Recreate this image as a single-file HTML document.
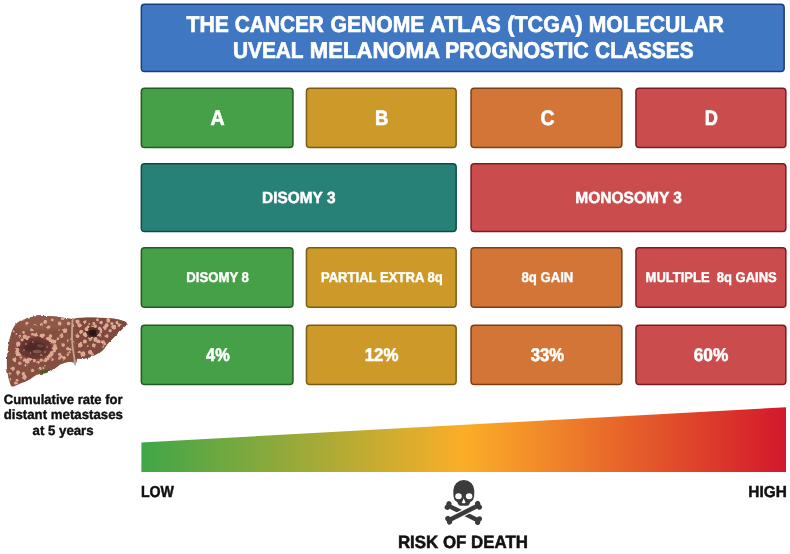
<!DOCTYPE html>
<html><head><meta charset="utf-8">
<style>
html,body{margin:0;padding:0;background:#fff;}
body{width:790px;height:554px;position:relative;overflow:hidden;font-family:"Liberation Sans",sans-serif;font-weight:bold;}
.t{position:absolute;white-space:pre;color:#fff;line-height:1;transform-origin:0 0;-webkit-text-stroke:0.03em;text-rendering:geometricPrecision;}
.k{color:#111;}
svg{position:absolute;left:0;top:0;}
</style></head><body>
<!-- boxes -->
<svg width="790" height="554" viewBox="0 0 790 554">
<rect x="141.35" y="4.35" width="642.80" height="67.10" rx="3.3" fill="#3f77c2" stroke="#1a3c7c" stroke-width="1.5"/>
<rect x="141.35" y="88.15" width="151.60" height="59.40" rx="3.3" fill="#45a047" stroke="#215c22" stroke-width="1.5"/>
<rect x="306.45" y="88.15" width="149.70" height="59.40" rx="3.3" fill="#cd9a29" stroke="#7a5a14" stroke-width="1.5"/>
<rect x="471.05" y="88.15" width="150.80" height="59.40" rx="3.3" fill="#d37537" stroke="#7c3e14" stroke-width="1.5"/>
<rect x="635.95" y="88.15" width="149.90" height="59.40" rx="3.3" fill="#cb4c4d" stroke="#7a1c22" stroke-width="1.5"/>
<rect x="141.35" y="163.75" width="314.80" height="67.70" rx="3.3" fill="#288177" stroke="#0f4a44" stroke-width="1.5"/>
<rect x="471.05" y="163.75" width="314.80" height="67.70" rx="3.3" fill="#cb4c4d" stroke="#7a1c22" stroke-width="1.5"/>
<rect x="141.35" y="247.65" width="151.60" height="59.70" rx="3.3" fill="#45a047" stroke="#215c22" stroke-width="1.5"/>
<rect x="306.45" y="247.65" width="149.70" height="59.70" rx="3.3" fill="#cd9a29" stroke="#7a5a14" stroke-width="1.5"/>
<rect x="471.05" y="247.65" width="150.80" height="59.70" rx="3.3" fill="#d37537" stroke="#7c3e14" stroke-width="1.5"/>
<rect x="635.95" y="247.65" width="149.90" height="59.70" rx="3.3" fill="#cb4c4d" stroke="#7a1c22" stroke-width="1.5"/>
<rect x="141.35" y="325.15" width="151.60" height="59.40" rx="3.3" fill="#45a047" stroke="#215c22" stroke-width="1.5"/>
<rect x="306.45" y="325.15" width="149.70" height="59.40" rx="3.3" fill="#cd9a29" stroke="#7a5a14" stroke-width="1.5"/>
<rect x="471.05" y="325.15" width="150.80" height="59.40" rx="3.3" fill="#d37537" stroke="#7c3e14" stroke-width="1.5"/>
<rect x="635.95" y="325.15" width="149.90" height="59.40" rx="3.3" fill="#cb4c4d" stroke="#7a1c22" stroke-width="1.5"/>
</svg>
<!-- text -->
<div class="t" id="t1a" style="left:186px;top:13.37px;font-size:22.84px;transform:translateX(0.62px) scaleX(0.9260);">THE</div>
<div class="t" id="t1b" style="left:234px;top:13.37px;font-size:22.84px;transform:translateX(0.80px) scaleX(0.9116);">CANCER</div>
<div class="t" id="t1c" style="left:330px;top:13.37px;font-size:22.84px;transform:translateX(0.46px) scaleX(0.9266);">GENOME</div>
<div class="t" id="t1d" style="left:430px;top:13.37px;font-size:22.84px;transform:translateX(0.08px) scaleX(0.9498);">ATLAS</div>
<div class="t" id="t1e" style="left:507px;top:13.37px;font-size:22.84px;transform:translateX(0.21px) scaleX(0.9457);">(TCGA)</div>
<div class="t" id="t1f" style="left:588px;top:13.37px;font-size:22.84px;transform:translateX(0.69px) scaleX(0.9259);">MOLECULAR</div>
<div class="t" id="t2a" style="left:232px;top:39.02px;font-size:22.84px;transform:translateX(0.94px) scaleX(0.9128);">UVEAL</div>
<div class="t" id="t2b" style="left:309px;top:39.02px;font-size:22.84px;transform:translateX(0.86px) scaleX(0.9674);">MELANOMA</div>
<div class="t" id="t2c" style="left:445px;top:39.02px;font-size:22.84px;transform:translateX(0.12px) scaleX(0.9362);">PROGNOSTIC</div>
<div class="t" id="t2d" style="left:595px;top:39.02px;font-size:22.84px;transform:translateX(0.10px) scaleX(0.9135);">CLASSES</div>
<div class="t" id="tA" style="left:210px;top:108.54px;font-size:20.89px;transform:translateX(0.45px) scaleX(0.9363);">A</div>
<div class="t" id="tB" style="left:375px;top:108.54px;font-size:20.89px;transform:translateX(0.06px) scaleX(0.8847);">B</div>
<div class="t" id="tC" style="left:540px;top:108.54px;font-size:20.89px;transform:translateX(0.42px) scaleX(0.9280);">C</div>
<div class="t" id="tD" style="left:704px;top:108.54px;font-size:20.89px;transform:translateX(0.70px) scaleX(0.8714);">D</div>
<div class="t" id="tD3" style="left:262px;top:190.21px;font-size:16.16px;transform:translateX(0.07px) scaleX(0.9543);">DISOMY 3</div>
<div class="t" id="tM3" style="left:575px;top:190.21px;font-size:16.16px;transform:translateX(0.36px) scaleX(0.9603);">MONOSOMY 3</div>
<div class="t" id="tD8" style="left:186px;top:270.01px;font-size:14.07px;transform:translateX(0.24px) scaleX(0.9358);">DISOMY 8</div>
<div class="t" id="tPE" style="left:320px;top:269.92px;font-size:14.07px;transform:translateX(0.91px) scaleX(0.9300);">PARTIAL EXTRA 8q</div>
<div class="t" id="t8G" style="left:521px;top:269.92px;font-size:14.07px;transform:translateX(0.53px) scaleX(0.9331);">8q GAIN</div>
<div class="t" id="tMG" style="left:645px;top:269.91px;font-size:14.07px;transform:translateX(0.57px) scaleX(0.9242);">MULTIPLE  8q GAINS</div>
<div class="t" id="p4" style="left:206px;top:345.85px;font-size:18.38px;transform:translateX(0.06px) scaleX(0.8905);">4%</div>
<div class="t" id="p12" style="left:364px;top:345.86px;font-size:18.38px;transform:translateX(0.67px) scaleX(0.9203);">12%</div>
<div class="t" id="p33" style="left:530px;top:345.86px;font-size:18.38px;transform:translateX(0.64px) scaleX(0.9108);">33%</div>
<div class="t" id="p60" style="left:693px;top:345.86px;font-size:18.38px;transform:translateX(0.76px) scaleX(0.9414);">60%</div>
<div class="t k" id="c1" style="left:3px;top:393.37px;font-size:13.51px;transform:translateX(0.73px) scaleX(0.9659);">Cumulative rate for</div>
<div class="t k" id="c2" style="left:3px;top:408.18px;font-size:13.51px;transform:translateX(0.71px) scaleX(0.9808);">distant metastases</div>
<div class="t k" id="c3" style="left:32px;top:423.78px;font-size:13.51px;transform:translateX(0.60px) scaleX(0.9786);">at 5 years</div>
<div class="t k" id="lo" style="left:140px;top:484.52px;font-size:15.88px;transform:translateX(0.93px) scaleX(0.8930);">LOW</div>
<div class="t k" id="hi" style="left:748px;top:484.52px;font-size:15.88px;transform:translateX(0.29px) scaleX(0.9695);">HIGH</div>
<div class="t k" id="rd" style="left:397px;top:534.09px;font-size:17.69px;transform:translateX(0.90px) scaleX(0.9549);">RISK OF DEATH</div>
<svg width="790" height="554" viewBox="0 0 790 554">
<defs>
<linearGradient id="g" x1="141.4" x2="785.8" y1="0" y2="0" gradientUnits="userSpaceOnUse">
<stop offset="0" stop-color="#3fa648"/>
<stop offset="0.5" stop-color="#fbae28"/>
<stop offset="1" stop-color="#d3182c"/>
</linearGradient>
</defs>
<polygon points="141.4,442.5 786,407.3 786,472.1 141.4,472.1" fill="url(#g)"/>
<path fill="#3b3b3b" fill-rule="evenodd" d="M453.3,490.5 A10.5,10.5 0 0 1 474.3,490.5 C474.3,494.5 474.2,497.5 473.2,499.5 Q472.3,501.2 470.3,502 L469.6,503.8 Q469,505.7 467,505.7 L460.6,505.7 Q458.6,505.7 458,503.8 L457.3,502 Q455.3,501.2 454.4,499.5 C453.4,497.5 453.3,494.5 453.3,490.5 Z"/>
<ellipse cx="458.5" cy="496.3" rx="3.25" ry="2.95" fill="#fff"/>
<ellipse cx="469.1" cy="496.3" rx="3.25" ry="2.95" fill="#fff"/>
<path d="M463.7,498.3 L465.6,502.8 Q463.7,503.8 461.8,502.8 Z" fill="#fff"/>
<g transform="translate(463.30,513.10) rotate(26.40)" fill="#3b3b3b">
<rect x="-16.70" y="-2.25" width="33.40" height="4.50"/>
<circle cx="-17.00" cy="-1.95" r="2.60"/>
<circle cx="-17.00" cy="1.95" r="2.60"/>
<circle cx="17.00" cy="-1.95" r="2.60"/>
<circle cx="17.00" cy="1.95" r="2.60"/>
</g>
<g transform="translate(463.6,512.8) rotate(-26.6)"><rect x="-12" y="-3.5" width="24" height="7.0" fill="#fff"/></g>
<g transform="translate(463.60,512.80) rotate(-26.60)" fill="#3b3b3b">
<rect x="-16.40" y="-2.25" width="32.80" height="4.50"/>
<circle cx="-16.70" cy="-1.95" r="2.60"/>
<circle cx="-16.70" cy="1.95" r="2.60"/>
<circle cx="16.70" cy="-1.95" r="2.60"/>
<circle cx="16.70" cy="1.95" r="2.60"/>
</g>
<defs><clipPath id="lc"><path d="M15.2,324.7 C18,321.5 21,320 24.2,319.4 C28,317.5 33,316.5 37.9,316.3 C43,315.8 48,315.8 53,316.3 C57,316.6 60.5,317.2 63.6,317.8 C66.5,318.2 69.5,318.4 72.1,318.9 C75.5,318.3 79,317.9 82.7,317.8 C87.7,317.5 92.8,317.5 97.9,317.8 C103,318 108,318.2 113,318.6 C117,319.2 120.5,320 123.6,320.9 C125.5,321.5 126.9,322.2 126.8,323.4 C126.6,324.6 126,325.5 125.2,326.2 C123.8,327.8 122.2,329.2 120.6,330.7 L114.5,336.8 L108.5,342.8 L103.9,348.9 C102,351 100,352.4 97.9,353.5 C95.5,355 93,356.3 90.3,357.2 C87.8,358 85.3,358.6 82.7,358.8 L77,358.8 C76.8,361 76.3,363 75.4,365 C74.3,363.2 72.6,361.9 70.5,361.6 C67,362.2 63.5,363.4 60,364.8 C57.5,366.5 55.2,368.4 53,370 C50.5,371.3 48,372.3 45.5,373 C42.5,373.4 39.4,374 36.4,374.9 C34.2,376.2 32.2,377.7 30.3,379.2 C27,381 23.4,382.6 19.7,383.8 C17.2,385 14.7,386.2 12.1,386.8 C10.8,385.6 10.1,384 9.8,382.2 C8.6,379.4 8,376.3 7.6,373.2 C6.9,369.2 6.7,365.1 6.8,361 C6.9,356 7.4,350.9 8.3,345.9 C9,341.2 10,336.6 11.4,332.2 C12.3,329.5 13.6,327 15.2,324.7 Z"/></clipPath><filter id="b1" x="-30%" y="-30%" width="160%" height="160%"><feGaussianBlur stdDeviation="0.55"/></filter><filter id="b2" x="-30%" y="-30%" width="160%" height="160%"><feGaussianBlur stdDeviation="1.6"/></filter><filter id="b3" x="-5%" y="-5%" width="110%" height="110%"><feTurbulence type="fractalNoise" baseFrequency="0.22" numOctaves="2" seed="3" result="n"/><feDisplacementMap in="SourceGraphic" in2="n" scale="2.6" xChannelSelector="R" yChannelSelector="G"/><feGaussianBlur stdDeviation="0.4"/></filter></defs>
<g filter="url(#b3)">
<path d="M15.2,324.7 C18,321.5 21,320 24.2,319.4 C28,317.5 33,316.5 37.9,316.3 C43,315.8 48,315.8 53,316.3 C57,316.6 60.5,317.2 63.6,317.8 C66.5,318.2 69.5,318.4 72.1,318.9 C75.5,318.3 79,317.9 82.7,317.8 C87.7,317.5 92.8,317.5 97.9,317.8 C103,318 108,318.2 113,318.6 C117,319.2 120.5,320 123.6,320.9 C125.5,321.5 126.9,322.2 126.8,323.4 C126.6,324.6 126,325.5 125.2,326.2 C123.8,327.8 122.2,329.2 120.6,330.7 L114.5,336.8 L108.5,342.8 L103.9,348.9 C102,351 100,352.4 97.9,353.5 C95.5,355 93,356.3 90.3,357.2 C87.8,358 85.3,358.6 82.7,358.8 L77,358.8 C76.8,361 76.3,363 75.4,365 C74.3,363.2 72.6,361.9 70.5,361.6 C67,362.2 63.5,363.4 60,364.8 C57.5,366.5 55.2,368.4 53,370 C50.5,371.3 48,372.3 45.5,373 C42.5,373.4 39.4,374 36.4,374.9 C34.2,376.2 32.2,377.7 30.3,379.2 C27,381 23.4,382.6 19.7,383.8 C17.2,385 14.7,386.2 12.1,386.8 C10.8,385.6 10.1,384 9.8,382.2 C8.6,379.4 8,376.3 7.6,373.2 C6.9,369.2 6.7,365.1 6.8,361 C6.9,356 7.4,350.9 8.3,345.9 C9,341.2 10,336.6 11.4,332.2 C12.3,329.5 13.6,327 15.2,324.7 Z" fill="#865041"/>
<g clip-path="url(#lc)">
<rect x="76" y="310" width="60" height="60" fill="#7a4638" opacity="0.55"/>
<ellipse cx="40" cy="322" rx="30" ry="8" fill="#97604e" opacity="0.6" filter="url(#b2)"/>
<ellipse cx="45.5" cy="372.6" rx="5.5" ry="2.8" fill="#4a5a2c"/>
<ellipse cx="35.3" cy="348.4" rx="21" ry="14.5" fill="#8f4a42" opacity="0.8" filter="url(#b2)"/>
<ellipse cx="35.3" cy="348.2" rx="16.5" ry="10.8" fill="#6a3833" filter="url(#b1)"/>
<ellipse cx="34.5" cy="347.5" rx="11" ry="6" fill="#4e2725" opacity="0.85" filter="url(#b2)"/>
<ellipse cx="37" cy="351.5" rx="4.5" ry="1.8" fill="#84675b" opacity="0.8" filter="url(#b1)"/>
<ellipse cx="40" cy="346" rx="3.5" ry="1.5" fill="#75554b" opacity="0.7" filter="url(#b1)"/>
<circle cx="26.0" cy="344.0" r="1.2" fill="#a8746a" opacity="0.8" filter="url(#b1)"/>
<circle cx="30.0" cy="353.0" r="1.3" fill="#a8746a" opacity="0.8" filter="url(#b1)"/>
<circle cx="44.0" cy="352.0" r="1.2" fill="#a8746a" opacity="0.8" filter="url(#b1)"/>
<circle cx="47.0" cy="347.0" r="1.1" fill="#a8746a" opacity="0.8" filter="url(#b1)"/>
<circle cx="33.0" cy="342.0" r="1.0" fill="#a8746a" opacity="0.8" filter="url(#b1)"/>
<circle cx="24.0" cy="350.0" r="1.1" fill="#a8746a" opacity="0.8" filter="url(#b1)"/>
<circle cx="41.0" cy="355.0" r="1.2" fill="#a8746a" opacity="0.8" filter="url(#b1)"/>
<ellipse cx="92.5" cy="333" rx="7.5" ry="5.8" fill="#4a2621" filter="url(#b2)"/>
<ellipse cx="93" cy="333" rx="3.8" ry="3" fill="#2c1614" filter="url(#b1)"/>
<g filter="url(#b1)" fill="#dca993">
<circle cx="27.1" cy="323.5" r="1.7"/>
<circle cx="31.6" cy="329.8" r="1.5"/>
<circle cx="45.1" cy="321.7" r="2.0"/>
<circle cx="52.3" cy="319.9" r="1.4"/>
<circle cx="59.6" cy="323.5" r="1.9"/>
<circle cx="48.7" cy="327.1" r="1.7"/>
<circle cx="41.5" cy="324.4" r="1.4"/>
<circle cx="63.2" cy="319.0" r="1.9"/>
<circle cx="19.9" cy="336.1" r="1.3"/>
<circle cx="18.1" cy="345.1" r="1.8"/>
<circle cx="23.5" cy="332.5" r="1.4"/>
<circle cx="27.1" cy="338.8" r="1.4"/>
<circle cx="50.5" cy="336.1" r="1.8"/>
<circle cx="54.2" cy="341.5" r="2.2"/>
<circle cx="57.8" cy="338.8" r="1.4"/>
<circle cx="54.2" cy="348.7" r="1.5"/>
<circle cx="51.4" cy="354.2" r="2.0"/>
<circle cx="18.1" cy="354.2" r="2.3"/>
<circle cx="14.4" cy="359.6" r="1.9"/>
<circle cx="19.9" cy="363.2" r="1.7"/>
<circle cx="27.1" cy="361.4" r="2.4"/>
<circle cx="52.3" cy="359.6" r="1.4"/>
<circle cx="36.1" cy="334.3" r="2.2"/>
<circle cx="43.3" cy="335.2" r="1.6"/>
<circle cx="30.7" cy="359.6" r="1.5"/>
<circle cx="37.9" cy="362.3" r="1.4"/>
<circle cx="45.1" cy="360.5" r="1.6"/>
<circle cx="12.6" cy="368.6" r="2.2"/>
<circle cx="9.9" cy="374.0" r="1.5"/>
<circle cx="18.1" cy="372.2" r="1.9"/>
<circle cx="23.5" cy="374.0" r="2.0"/>
<circle cx="32.5" cy="370.4" r="1.7"/>
<circle cx="39.7" cy="368.6" r="1.9"/>
<circle cx="10.8" cy="379.4" r="1.4"/>
<circle cx="17.1" cy="380.3" r="1.4"/>
<circle cx="25.3" cy="377.6" r="1.5"/>
<circle cx="61.4" cy="336.1" r="2.0"/>
<circle cx="63.2" cy="345.1" r="1.8"/>
<circle cx="59.6" cy="354.2" r="1.6"/>
<circle cx="64.1" cy="357.8" r="1.9"/>
<circle cx="68.6" cy="323.5" r="1.8"/>
<circle cx="67.7" cy="348.7" r="1.6"/>
<circle cx="65.0" cy="330.7" r="2.2"/>
<circle cx="79.4" cy="325.3" r="2.1"/>
<circle cx="84.8" cy="321.7" r="1.6"/>
<circle cx="81.2" cy="331.6" r="1.9"/>
<circle cx="77.6" cy="336.1" r="1.9"/>
<circle cx="80.3" cy="345.1" r="2.3"/>
<circle cx="84.8" cy="341.5" r="2.1"/>
<circle cx="79.4" cy="352.3" r="1.6"/>
<circle cx="83.0" cy="354.2" r="2.4"/>
<circle cx="93.9" cy="323.5" r="1.4"/>
<circle cx="101.1" cy="322.6" r="1.8"/>
<circle cx="106.5" cy="325.3" r="2.1"/>
<circle cx="111.9" cy="323.5" r="1.5"/>
<circle cx="117.3" cy="322.6" r="1.8"/>
<circle cx="101.1" cy="330.7" r="1.3"/>
<circle cx="106.5" cy="336.1" r="2.0"/>
<circle cx="98.4" cy="341.5" r="2.1"/>
<circle cx="93.9" cy="345.1" r="1.9"/>
<circle cx="90.3" cy="352.3" r="2.3"/>
<circle cx="110.1" cy="330.7" r="1.6"/>
<circle cx="104.7" cy="328.0" r="2.1"/>
<circle cx="86.6" cy="328.9" r="2.0"/>
<circle cx="84.8" cy="334.3" r="1.9"/>
<circle cx="95.7" cy="338.8" r="1.8"/>
<circle cx="102.9" cy="342.4" r="2.2"/>
<circle cx="113.7" cy="327.1" r="2.3"/>
<circle cx="119.1" cy="325.3" r="1.8"/>
<circle cx="108.3" cy="320.8" r="2.0"/>
<circle cx="97.5" cy="319.9" r="1.4"/>
<circle cx="77.6" cy="321.7" r="2.1"/>
<circle cx="55.8" cy="348.6" r="1.5"/>
<circle cx="54.3" cy="350.8" r="1.7"/>
<circle cx="51.6" cy="353.0" r="2.0"/>
<circle cx="49.8" cy="356.0" r="2.1"/>
<circle cx="47.3" cy="358.5" r="2.1"/>
<circle cx="41.2" cy="360.2" r="1.6"/>
<circle cx="38.3" cy="362.4" r="1.4"/>
<circle cx="34.3" cy="360.6" r="1.7"/>
<circle cx="28.5" cy="359.2" r="1.6"/>
<circle cx="24.8" cy="360.2" r="1.9"/>
<circle cx="20.8" cy="357.2" r="1.3"/>
<circle cx="17.1" cy="353.8" r="2.0"/>
<circle cx="17.2" cy="351.3" r="1.8"/>
<circle cx="17.7" cy="349.3" r="1.4"/>
<circle cx="18.0" cy="345.7" r="1.4"/>
<circle cx="18.2" cy="343.5" r="2.1"/>
<circle cx="22.1" cy="339.7" r="1.5"/>
<circle cx="24.8" cy="336.8" r="2.2"/>
<circle cx="28.5" cy="337.0" r="1.3"/>
<circle cx="32.5" cy="334.3" r="1.4"/>
<circle cx="35.8" cy="335.0" r="1.3"/>
<circle cx="41.7" cy="335.9" r="2.2"/>
<circle cx="47.6" cy="338.5" r="1.6"/>
<circle cx="49.2" cy="338.8" r="2.0"/>
<circle cx="51.1" cy="341.3" r="2.2"/>
<circle cx="54.9" cy="345.8" r="1.9"/>
<circle cx="100.5" cy="332.3" r="1.1"/>
<circle cx="99.6" cy="335.0" r="1.7"/>
<circle cx="95.3" cy="339.9" r="1.9"/>
<circle cx="91.5" cy="338.8" r="1.3"/>
<circle cx="90.1" cy="339.2" r="1.8"/>
<circle cx="85.7" cy="335.6" r="1.7"/>
<circle cx="84.8" cy="334.2" r="1.7"/>
<circle cx="86.6" cy="329.6" r="1.7"/>
<circle cx="88.1" cy="326.8" r="1.4"/>
<circle cx="92.5" cy="326.1" r="1.2"/>
<circle cx="95.3" cy="326.2" r="1.7"/>
<circle cx="99.5" cy="328.4" r="1.6"/>
<circle cx="23.2" cy="318.9" r="1.7"/>
<circle cx="83.4" cy="352.8" r="1.6"/>
<circle cx="58.3" cy="375.5" r="1.5"/>
<circle cx="32.5" cy="334.6" r="1.1"/>
<circle cx="23.2" cy="378.1" r="1.1"/>
<circle cx="61.1" cy="356.5" r="1.6"/>
<circle cx="56.8" cy="378.6" r="1.3"/>
<circle cx="69.7" cy="352.6" r="0.8"/>
<circle cx="59.1" cy="330.1" r="0.8"/>
<circle cx="100.7" cy="329.4" r="1.2"/>
<circle cx="92.1" cy="354.7" r="1.1"/>
<circle cx="68.1" cy="354.7" r="1.5"/>
<circle cx="20.3" cy="355.0" r="1.0"/>
<circle cx="40.1" cy="369.0" r="1.3"/>
<circle cx="73.2" cy="368.2" r="1.6"/>
<circle cx="59.4" cy="358.4" r="1.3"/>
<circle cx="67.4" cy="363.7" r="1.2"/>
<circle cx="69.9" cy="349.6" r="1.6"/>
<circle cx="89.1" cy="375.9" r="1.6"/>
<circle cx="117.4" cy="373.4" r="0.9"/>
<circle cx="16.4" cy="333.9" r="0.9"/>
<circle cx="85.7" cy="369.7" r="1.6"/>
<circle cx="25.9" cy="365.3" r="1.4"/>
<circle cx="24.6" cy="376.3" r="1.7"/>
<circle cx="33.5" cy="380.9" r="1.2"/>
<circle cx="64.5" cy="383.3" r="1.5"/>
<circle cx="67.8" cy="340.4" r="1.0"/>
<circle cx="44.9" cy="365.7" r="0.8"/>
<circle cx="72.3" cy="347.1" r="0.8"/>
<circle cx="46.5" cy="359.2" r="1.3"/>
<circle cx="15.5" cy="383.0" r="1.5"/>
<circle cx="120.7" cy="324.9" r="1.0"/>
<circle cx="12.6" cy="369.4" r="1.0"/>
<circle cx="113.7" cy="372.1" r="1.0"/>
<circle cx="25.3" cy="378.7" r="1.3"/>
<circle cx="89.2" cy="323.9" r="0.9"/>
<circle cx="87.8" cy="346.1" r="0.9"/>
<circle cx="116.8" cy="359.9" r="1.5"/>
<circle cx="17.7" cy="374.5" r="0.9"/>
<circle cx="108.1" cy="347.9" r="1.1"/>
<circle cx="72.2" cy="379.2" r="1.0"/>
<circle cx="35.7" cy="325.2" r="0.9"/>
<circle cx="13.8" cy="331.3" r="1.1"/>
<circle cx="43.4" cy="368.1" r="1.1"/>
<circle cx="66.0" cy="329.7" r="1.1"/>
<circle cx="10.1" cy="334.5" r="0.8"/>
<circle cx="93.0" cy="354.4" r="1.0"/>
<circle cx="63.1" cy="379.7" r="0.9"/>
<circle cx="103.0" cy="346.5" r="1.2"/>
<circle cx="104.8" cy="343.9" r="1.3"/>
<circle cx="87.8" cy="382.8" r="1.1"/>
<circle cx="104.5" cy="364.6" r="1.4"/>
</g>
</g>
<path d="M72.6,318.8 C72.2,326 71.6,334 72.2,342 C72.8,350 74.4,358 75.3,364.6" fill="none" stroke="#c9a28d" stroke-width="1.8" stroke-linecap="round"/>
</g>
</svg>
</body></html>
